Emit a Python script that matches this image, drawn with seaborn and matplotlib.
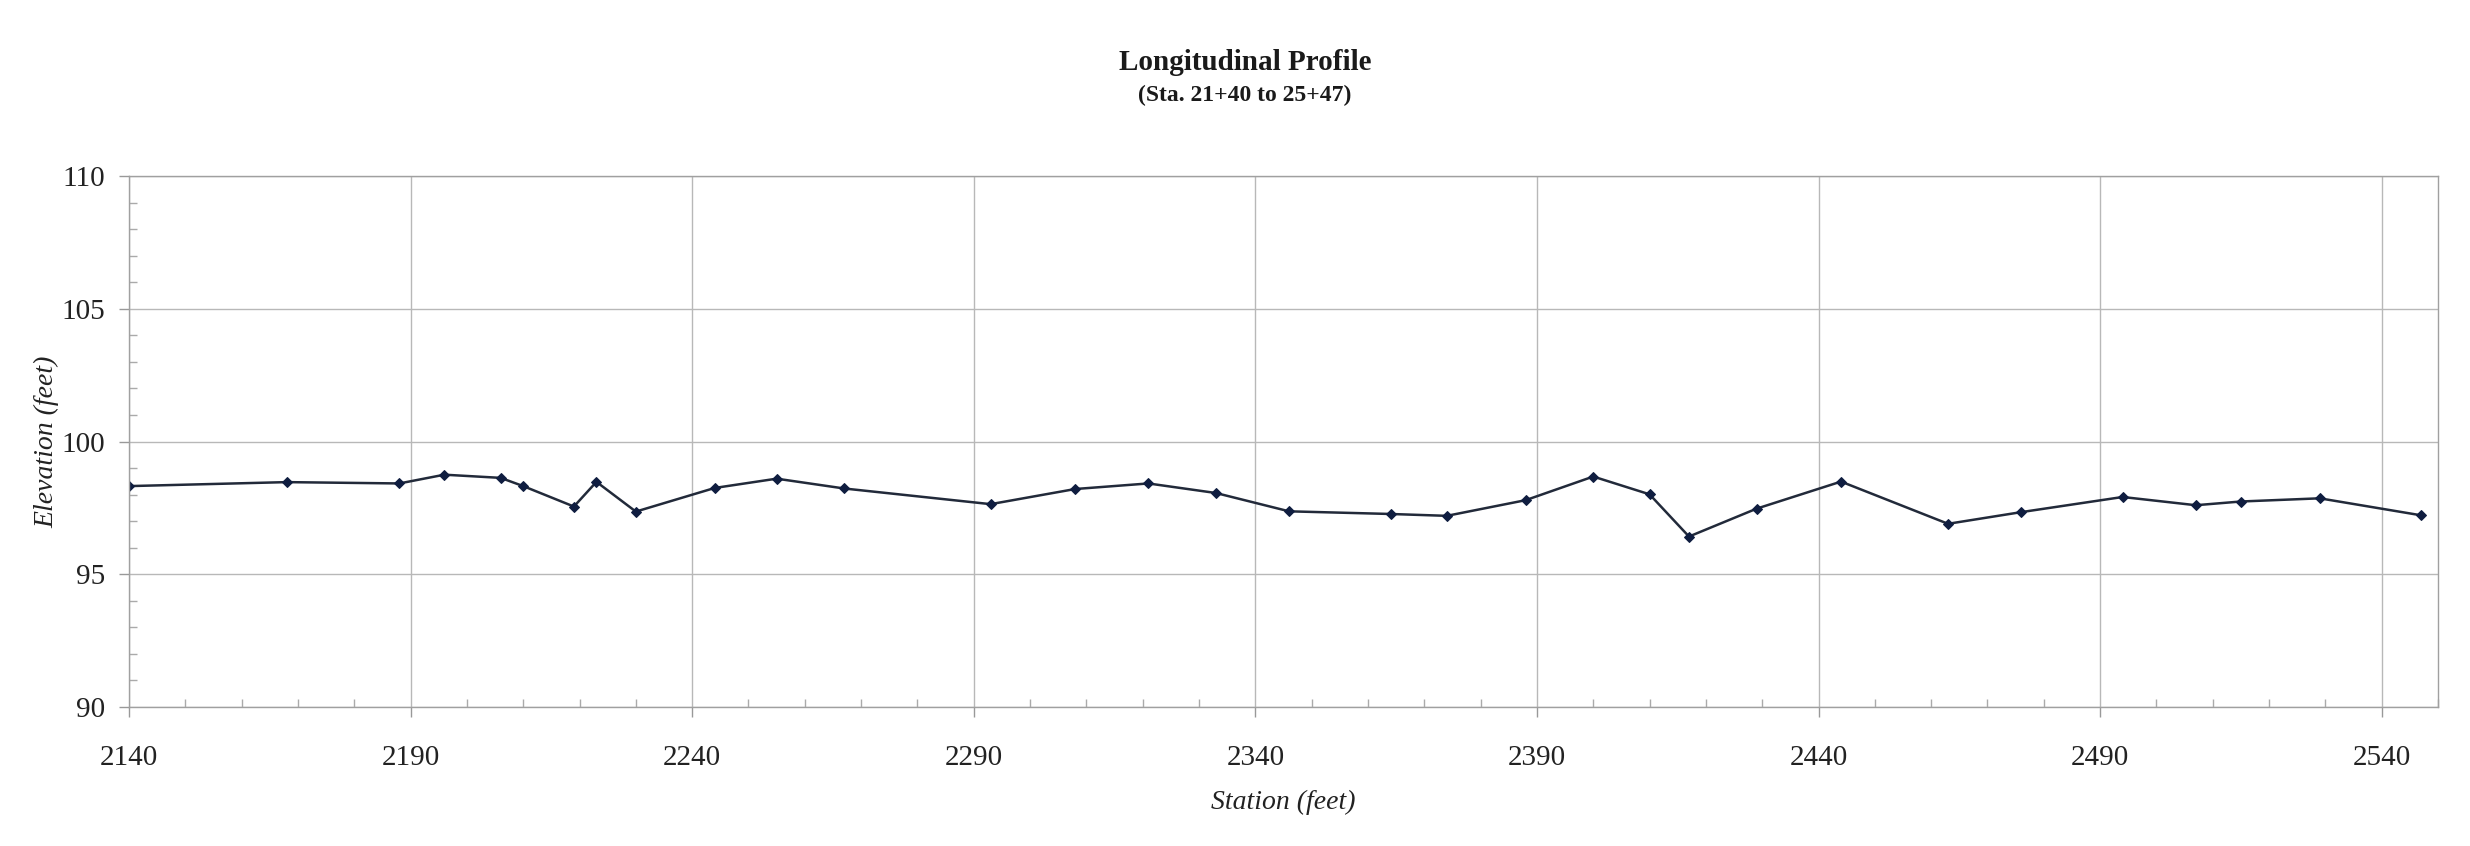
import matplotlib
matplotlib.use('Agg')
import matplotlib.pyplot as plt
import seaborn as sns
import pandas as pd

# survey points
station = [2140, 2168, 2188, 2196, 2206, 2210, 2219, 2223, 2230, 2244, 2255,
           2267, 2293, 2308, 2321, 2333, 2346, 2364, 2374, 2388, 2400, 2410,
           2417, 2429, 2444, 2463, 2476, 2494, 2507, 2515, 2529, 2547]
elevation = [98.32, 98.47, 98.42, 98.75, 98.63, 98.32, 97.55, 98.48, 97.36, 98.25, 98.60,
             98.23, 97.64, 98.21, 98.42, 98.06, 97.37, 97.27, 97.20, 97.79, 98.68, 98.01,
             96.42, 97.47, 98.49, 96.90, 97.34, 97.91, 97.60, 97.74, 97.86, 97.22]
x_major = [2140, 2190, 2240, 2290, 2340, 2390, 2440, 2490, 2540]

df = pd.DataFrame({'Station': station, 'Elevation': elevation})

sns.set_style('white')
plt.rcParams['font.family'] = ['Liberation Serif', 'DejaVu Serif']

fig = plt.figure(figsize=(24.7, 8.46), dpi=100)
ax = fig.add_axes([129 / 2470, 1 - 707 / 846, (2438 - 129) / 2470, (707 - 176) / 846])

sns.lineplot(data=df, x='Station', y='Elevation', ax=ax, color='#222a3a', linewidth=1.8,
             marker='D', markersize=5.5, markerfacecolor='#0f1d40', markeredgecolor='#0f1d40')

ax.set_xlim(2140, 2550)
ax.set_ylim(90, 110)
ax.set_xticks(x_major)
ax.set_xticks(range(2140, 2551, 10), minor=True)
ax.set_yticks(range(90, 111, 5))
ax.set_yticks(range(90, 111, 1), minor=True)
ax.grid(True, which='major', color='#b8b8b8', linewidth=1.0)

ax.tick_params(axis='both', which='major', direction='out', length=7, width=1,
               color='#999999', labelsize=21, labelcolor='#222222')
ax.tick_params(axis='x', which='major', pad=20)
ax.tick_params(axis='y', which='major', pad=10)
ax.tick_params(axis='both', which='minor', direction='in', length=6, width=1, color='#aaaaaa')
ax.tick_params(bottom=True, left=True, which='both')

for s in ax.spines.values():
    s.set_color('#a0a0a0')
    s.set_linewidth(1.0)

ax.set_xlabel('Station (feet)', fontsize=20, style='italic', color='#222222', labelpad=14)
ax.set_ylabel('Elevation (feet)', fontsize=20, style='italic', color='#222222', labelpad=2)

fig.text(1245 / 2470, 1 - 62 / 846, 'Longitudinal Profile', ha='center', va='center',
         fontsize=21, fontweight='bold', color='#1a1a1a')
fig.text(1245 / 2470, 1 - 95 / 846, '(Sta. 21+40 to 25+47)', ha='center', va='center',
         fontsize=17, fontweight='bold', color='#1a1a1a')

fig.savefig('out.png', dpi=100, facecolor='white')
